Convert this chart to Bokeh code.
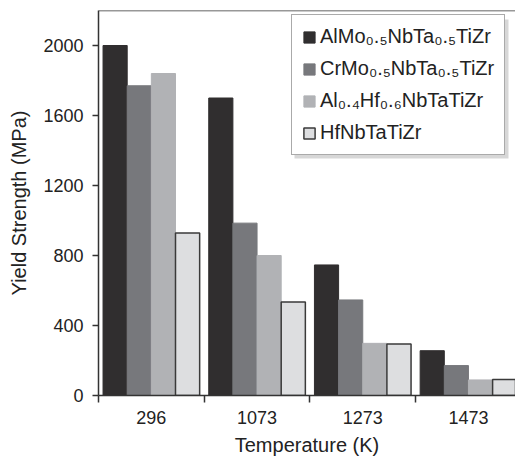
from bokeh.plotting import figure
from bokeh.models import ColumnDataSource, Range1d, FixedTicker, Span, Legend, LegendItem, BoxAnnotation
from bokeh.embed import file_html
from bokeh.resources import INLINE

temperatures = ["296", "1073", "1273", "1473"]
alloys = ["AlMo\u2080.\u2085NbTa\u2080.\u2085TiZr", "CrMo\u2080.\u2085NbTa\u2080.\u2085TiZr",
          "Al\u2080.\u2084Hf\u2080.\u2086NbTaTiZr", "HfNbTaTiZr"]
almo = [2000, 1700, 746, 256]
crmo = [1770, 985, 546, 171]
alhf = [1840, 800, 298, 89]
hf = [928, 535, 295, 92]
series = [almo, crmo, alhf, hf]
y_ticks = [0, 400, 800, 1200, 1600, 2000]

fills = ["#302e2f", "#77787c", "#b1b2b5", "#dddee0"]
lines = ["#302e2f", "#77787c", "#b1b2b5", "#3a3a3a"]
lwidths = [1, 1, 1, 1.5]

FONT = "Liberation Sans"
BAR_W = 0.2285
GROUP_PX = 105.7
W, H = 515, 458
LEFT, TOP = 98, 10

p = figure(width=W, height=H, output_backend="svg", toolbar_location=None,
           x_range=Range1d(0, (W - LEFT) / GROUP_PX), y_range=Range1d(0, 2200),
           min_border_left=LEFT, min_border_top=TOP, min_border_right=0, min_border_bottom=0)
p.outline_line_color = None
p.grid.visible = False
p.background_fill_color = "white"
p.border_fill_color = "white"

renderers = []
for j, vals in enumerate(series):
    xs = [i + 0.5 + (j - 1.5) * BAR_W for i in range(len(temperatures))]
    src = ColumnDataSource(dict(x=xs, top=vals))
    r = p.vbar(x="x", top="top", bottom=0, width=BAR_W, source=src,
               fill_color=fills[j], line_color=lines[j], line_width=lwidths[j])
    renderers.append(r)

# x axis: labels at group centres, ticks at group boundaries
xt = FixedTicker(ticks=[i + 0.5 for i in range(len(temperatures))],
                 minor_ticks=list(range(len(temperatures) + 1)))
p.xaxis.ticker = xt
p.xaxis.major_label_overrides = {i + 0.5: t for i, t in enumerate(temperatures)}
p.xaxis.major_tick_line_color = None
p.xaxis.minor_tick_in = 0
p.xaxis.minor_tick_out = 7
p.xaxis.minor_tick_line_color = "#333333"
p.xaxis.minor_tick_line_width = 1.5
p.xaxis.major_label_standoff = 8
p.xaxis.axis_label = "Temperature (K)"
p.xaxis.axis_label_standoff = 7

p.yaxis.ticker = FixedTicker(ticks=y_ticks)
p.yaxis.major_tick_in = 0
p.yaxis.major_tick_out = 6
p.yaxis.major_tick_line_color = "#333333"
p.yaxis.major_tick_line_width = 1.5
p.yaxis.minor_tick_line_color = None
p.yaxis.major_label_standoff = 9
p.yaxis.axis_label = "Yield Strength (MPa)"
p.yaxis.axis_label_standoff = 10

for ax in (p.xaxis, p.yaxis):
    ax.axis_line_color = "#333333"
    ax.axis_line_width = 1.5
    ax.major_label_text_font = FONT
    ax.major_label_text_font_size = "18px"
    ax.major_label_text_color = "#222222"
    ax.axis_label_text_font = FONT
    ax.axis_label_text_font_size = "20px"
    ax.axis_label_text_font_style = "normal"
    ax.axis_label_text_color = "#222222"

p.add_layout(Span(location=2200, dimension="width", line_color="#333333", line_width=1.5))

# legend drop shadow (frame-relative screen units, y measured upward from the frame bottom)
LEG_X, LEG_Y = 193, 240
LEG_W, LEG_H = 214, 139
shadow = BoxAnnotation(left=LEG_X + 3, right=LEG_X + LEG_W + 3, bottom=LEG_Y - 3, top=LEG_Y + LEG_H - 3,
                       left_units="screen", right_units="screen", top_units="screen", bottom_units="screen",
                       fill_color="#9a9a9a", fill_alpha=0.4, line_color=None)
p.add_layout(shadow)

legend = Legend(items=[LegendItem(label=a, renderers=[r]) for a, r in zip(alloys, renderers)],
                location=(LEG_X, LEG_Y), orientation="vertical",
                label_text_font=FONT, label_text_font_size="20px", label_text_color="#222222",
                glyph_width=14, glyph_height=14, label_standoff=4, label_height=22,
                spacing=9, padding=10, margin=0,
                border_line_color="#555555", border_line_width=1,
                background_fill_color="white", background_fill_alpha=1)
p.add_layout(legend, "center")

open("out.html", "w").write(file_html(p, INLINE))
